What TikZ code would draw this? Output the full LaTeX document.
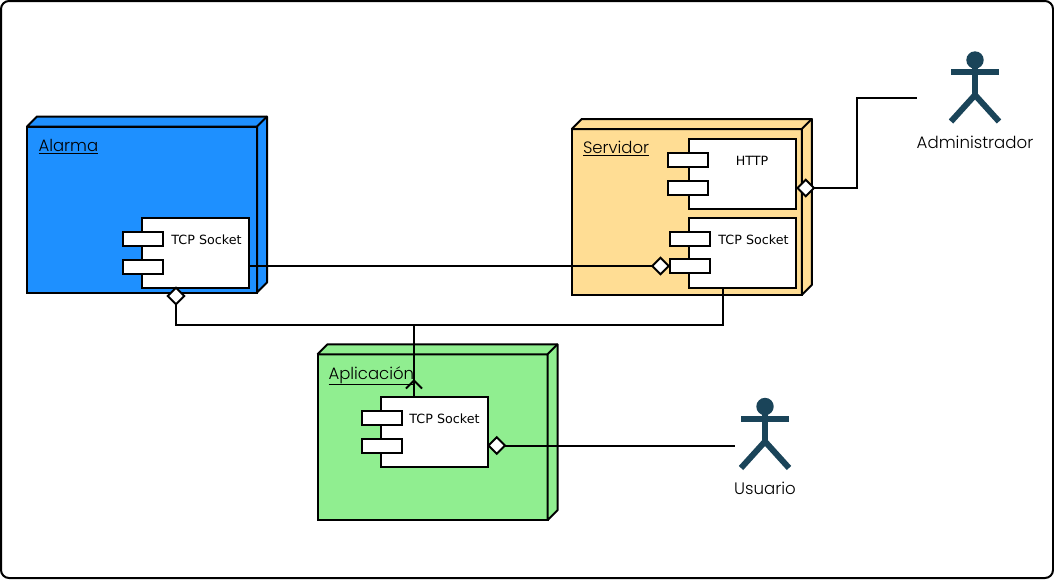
\documentclass[tikz,border=0pt]{standalone}
\usepackage{fontspec}
\setmainfont{DejaVu Sans}
\newfontfamily\umlfont{Poppins Light}
\usepackage{xcolor}
\usetikzlibrary{shapes}
\definecolor{alarmablue}{HTML}{1E90FF}
\definecolor{servidorsand}{HTML}{FFDD94}
\definecolor{aplicaciongreen}{HTML}{90EE90}
\definecolor{actorblue}{HTML}{1A4459}
\tikzstyle{frame} = [rectangle, draw, fill=white, rounded corners=8pt, minimum width=1052pt, minimum height=577pt, outer sep=0pt]
\tikzstyle{device} = [rectangle, draw, minimum width=230pt, minimum height=166pt, outer sep=0pt]
\tikzstyle{component} = [rectangle, draw, fill=white, minimum width=107pt, minimum height=70pt, outer sep=0pt]
\tikzstyle{port} = [rectangle, draw, fill=white, minimum width=40pt, minimum height=14pt, outer sep=0pt]
\tikzstyle{portname} = [inner sep=0pt, font=\fontsize{12.7pt}{14pt}\selectfont]
\tikzstyle{devicename} = [inner sep=0pt, anchor=base west, font=\umlfont\fontsize{16.5pt}{18pt}\selectfont]
\tikzstyle{actorname} = [inner sep=0pt, font=\umlfont\fontsize{16.6pt}{18pt}\selectfont]
\tikzstyle{joint} = [diamond, draw, fill=white, minimum width=16.5pt, minimum height=16.5pt, inner sep=0pt, outer sep=0pt]
\tikzstyle{line} = [draw]
\tikzset{
    actorman/.pic={
        \fill [actorblue] (0,0) circle [radius=8.7pt];
        \draw [actorblue, line width=6pt] (-24,12) -- (24,12);
        \draw [actorblue, line width=6pt] (0,0) -- (0,35);
        \draw [actorblue, line width=6pt] (-24,61.5) -- (0,35) -- (24,61.5);
    }
}
\newcommand{\deviceside}[2]{
    \draw [fill=#2, line join=bevel] (#1.north west) -- ++(10,-10) -- ++(230,0) -- ++(0,166) -- (#1.south east) -- (#1.north east) -- cycle;
    \draw [line cap=round] (#1.north east) -- ++(10,-10);
}

\begin{document}
\begin{tikzpicture}[x=1pt, y=-1pt, line width=2pt]
    \useasboundingbox (0,0) rectangle (1054,579);
    \node [frame] (frame) at (527,289.5) {};
    % Devices
    \node [device, fill=alarmablue] (alarma) at (142,209.5) {};
    \deviceside{alarma}{alarmablue}
    \node [devicename] (alarmaname) at (37.5,151.5) {\underline{Alarma}};
    \node [device, fill=servidorsand] (servidor) at (686.8,212) {};
    \deviceside{servidor}{servidorsand}
    \node [devicename] (servidorname) at (582,153.5) {\underline{Servidor}};
    \node [device, fill=aplicaciongreen] (aplicacion) at (432.5,437.3) {};
    \deviceside{aplicacion}{aplicaciongreen}
    \node [devicename] (aplicacionname) at (327.5,379) {\underline{Aplicación}};
    % Components
    \node [component] (tcpalarma) at (195.7,252.5) {};
    \node [port] (tcpalarmaa) at (143,239) {};
    \node [port] (tcpalarmab) at (143,266.5) {};
    \node [portname] (tcpalarmaname) at (206.5,239.7) {TCP Socket};
    \node [component] (http) at (742.5,174.3) {};
    \node [port] (httpa) at (688,160) {};
    \node [port] (httpb) at (688,188) {};
    \node [portname] (httpname) at (752,160.7) {HTTP};
    \node [component] (tcpservidor) at (742.7,252.5) {};
    \node [port] (tcpservidora) at (690,238.7) {};
    \node [port] (tcpservidorb) at (690,266.3) {};
    \node [portname] (tcpservidorname) at (753.5,239.7) {TCP Socket};
    \node [component] (tcpaplicacion) at (434.7,431.7) {};
    \node [port] (tcpaplicaciona) at (381.5,418) {};
    \node [port] (tcpaplicacionb) at (381.5,446) {};
    \node [portname] (tcpaplicacionname) at (444.5,418.7) {TCP Socket};
    % Actors
    \pic (administrador) at (975,60) {actorman};
    \node [actorname] (administradorname) at (975,142.5) {Administrador};
    \pic (usuario) at (765,406.5) {actorman};
    \node [actorname] (usuarioname) at (765,488.5) {Usuario};
    % Joints
    \node [joint] (jointalarma) at (176,296) {};
    \node [joint] (jointtcpservidor) at (660.5,266) {};
    \node [joint] (jointhttp) at (805.7,188) {};
    \node [joint] (jointaplicacion) at (496.7,445.5) {};
    \coordinate (bus) at (414,325);
    \coordinate (busservidor) at (723,287.5);
    \coordinate (busaplicacion) at (414,396.7);
    \coordinate (bustip) at (414,380.5);
    \coordinate (administradorin) at (916.5,98);
    \coordinate (usuarioin) at (734.5,445);
    % Edges
    \path [line] (tcpalarma.east |- jointtcpservidor) -- (jointtcpservidor.west);
    \path [line] (jointalarma.south) |- (bus);
    \path [line] (busservidor) |- (bus);
    \path [line] (bus) -- (busaplicacion);
    \path [line] (bustip) ++(-8,8) -- (bustip) -- ++(8,8);
    \path [line] (jointhttp.east) -| (857,98) -- (administradorin);
    \path [line] (jointaplicacion.east) -- (usuarioin |- jointaplicacion);
\end{tikzpicture}
\end{document}
